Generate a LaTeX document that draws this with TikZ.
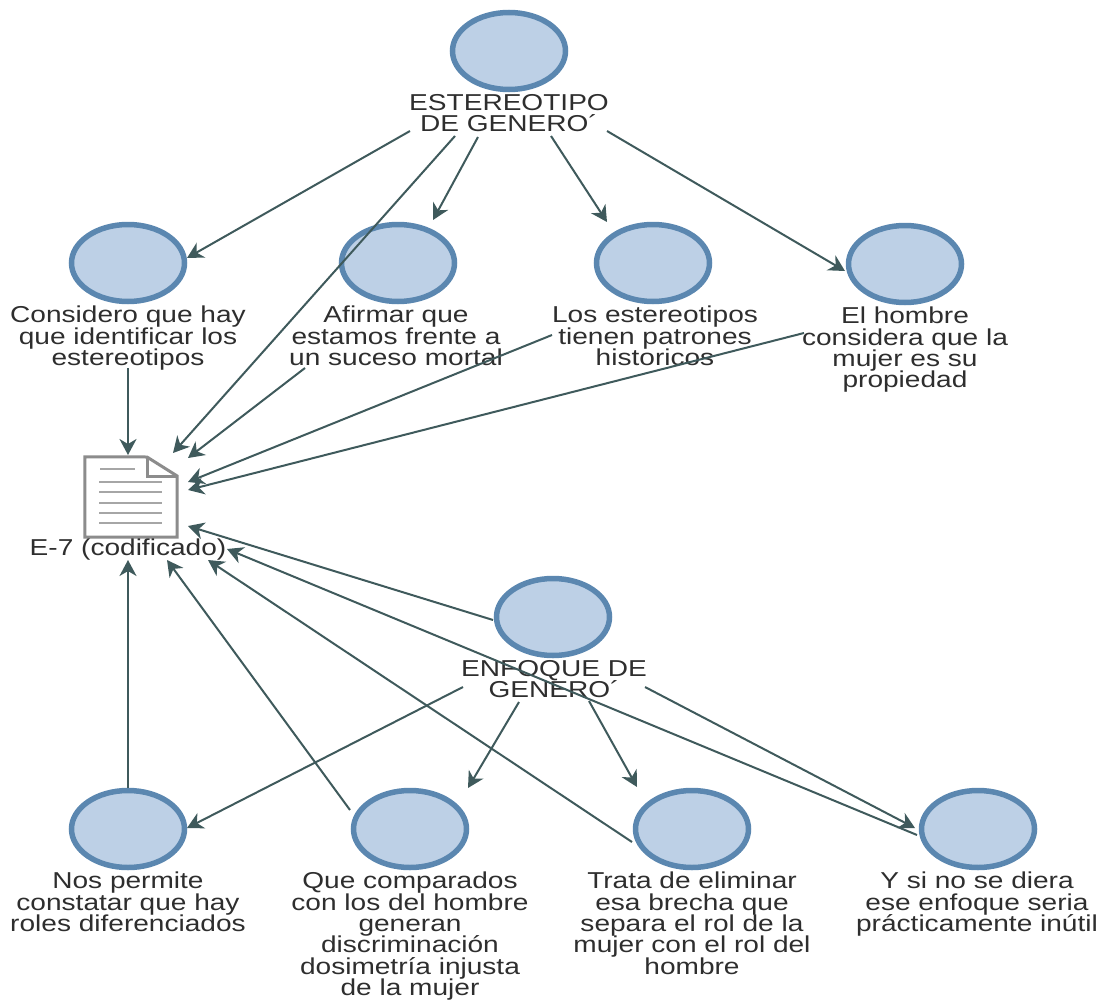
\documentclass[tikz,border=0pt]{standalone}
\usepackage{fontspec}
\setmainfont[FakeStretch=1.22]{Liberation Sans}
\usetikzlibrary{arrows.meta,shapes.geometric}
\lineskiplimit=-10pt
\definecolor{codeblue}{HTML}{BDD0E6}
\definecolor{codeedge}{HTML}{5B87B0}
\definecolor{linkgreen}{HTML}{3F5A5C}
\definecolor{textgray}{HTML}{2E2E2E}
\tikzset{
  code/.style={ellipse,draw=codeedge,fill=codeblue,line width=5.5pt,minimum width=113pt,minimum height=77pt,inner sep=0pt},
  quote/.style={anchor=north,align=center,inner sep=0pt,text=textgray,font=\fontsize{23}{21.3}\selectfont},
  link/.style={draw=linkgreen,line width=2pt,-{Stealth[length=16pt,width=17pt,inset=5pt]}}
}
\begin{document}
\begin{tikzpicture}[x=1pt,y=-1pt]
  \useasboundingbox (0,0) rectangle (1103,1001);
  % codes
  \node [code] (est) at (509,51) {};
  \node [code] (cons) at (128,263) {};
  \node [code] (afi) at (398,263) {};
  \node [code] (los) at (653,263) {};
  \node [code] (hom) at (905,264) {};
  \node [code] (enf) at (553,617) {};
  \node [code] (nos) at (128,829) {};
  \node [code] (que) at (410,829) {};
  \node [code] (tra) at (692,829) {};
  \node [code] (ysi) at (978,829) {};
  % labels
  \node [quote] (estL) at (509,94) {ESTEREOTIPO\\DE GENERO´};
  \node [quote] (consL) at (128,306) {Considero que hay\\que identificar los\\estereotipos};
  \node [quote] (afiL) at (396,306) {Afirmar que\\estamos frente a\\un suceso mortal};
  \node [quote] (losL) at (655,306) {Los estereotipos\\tienen patrones\\historicos};
  \node [quote] (homL) at (905,307) {El hombre\\considera que la\\mujer es su\\propiedad};
  \node [quote] (enfL) at (554,660) {ENFOQUE DE\\GENERO´};
  \node [quote] (nosL) at (128,872) {Nos permite\\constatar que hay\\roles diferenciados};
  \node [quote] (queL) at (410,872) {Que comparados\\con los del hombre\\generan\\discriminación\\dosimetría injusta\\de la mujer};
  \node [quote] (traL) at (692,872) {Trata de eliminar\\esa brecha que\\separa el rol de la\\mujer con el rol del\\hombre};
  \node [quote] (ysiL) at (977,872) {Y si no se diera\\ese enfoque seria\\prácticamente inútil};
  % document
  \node [minimum width=92pt,minimum height=80pt,inner sep=0pt] (doc) at (131,497) {};
  \draw [gray!90,line width=3pt,fill=white] (doc.north west) -- (147,457) -- (doc.east |- 0,476) -- (doc.south east) -- (doc.south west) -- cycle;
  \draw [gray!90,line width=3pt] (147,457) -- (147,476) -- (doc.east |- 0,476);
  \draw [gray!70,line width=1.2pt] (100,469) -- (135,469);
  \foreach \y in {482,492,503,513,523}
    \draw [gray!70,line width=1.2pt] (99,\y) -- (162,\y);
  \node [quote] (docL) at (128,539) {E-7 (codificado)};
  % links
  \draw [link] ([shift={(-99,37)}]estL.north) -- ([shift={(59,-5)}]cons.center);
  \draw [link] ([shift={(-54,42)}]estL.north) -- ([shift={(42,-44)}]doc.center);
  \draw [link] ([shift={(-31,43)}]estL.north) -- ([shift={(35,-43)}]afi.center);
  \draw [link] ([shift={(42,42)}]estL.north) -- ([shift={(-46,-41)}]los.center);
  \draw [link] ([shift={(98,37)}]estL.north) -- ([shift={(-60,7)}]hom.center);
  \draw [link,line width=2.4pt] ([shift={(0,62)}]consL.north) -- ([shift={(-3,-42)}]doc.center);
  \draw [link] ([shift={(-91,62)}]afiL.north) -- ([shift={(57,-39)}]doc.center);
  \draw [link] ([shift={(-103,29)}]losL.north) -- ([shift={(57,-15)}]doc.center);
  \draw [link] ([shift={(-101,26)}]homL.north) -- ([shift={(57,-7)}]doc.center);
  \draw [link] ([shift={(-60,3)}]enf.center) -- ([shift={(57,29)}]doc.center);
  \draw [link] ([shift={(-91,27)}]enfL.north) -- ([shift={(59,-1)}]nos.center);
  \draw [link] ([shift={(-35,42)}]enfL.north) -- ([shift={(58,-41)}]que.center);
  \draw [link] ([shift={(35,41)}]enfL.north) -- ([shift={(-55,-42)}]tra.center);
  \draw [link] ([shift={(91,27)}]enfL.north) -- ([shift={(-63,-1)}]ysi.center);
  \draw [link] ([shift={(-61,6)}]ysi.center) -- ([shift={(96,52)}]doc.center);
  \draw [link] ([shift={(-60,13)}]tra.center) -- ([shift={(77,63)}]doc.center);
  \draw [link] ([shift={(-60,-19)}]que.center) -- ([shift={(36,63)}]doc.center);
  \draw [link,line width=2.4pt] ([shift={(0,-41)}]nos.center) -- ([shift={(-3,63)}]doc.center);
\end{tikzpicture}
\end{document}
